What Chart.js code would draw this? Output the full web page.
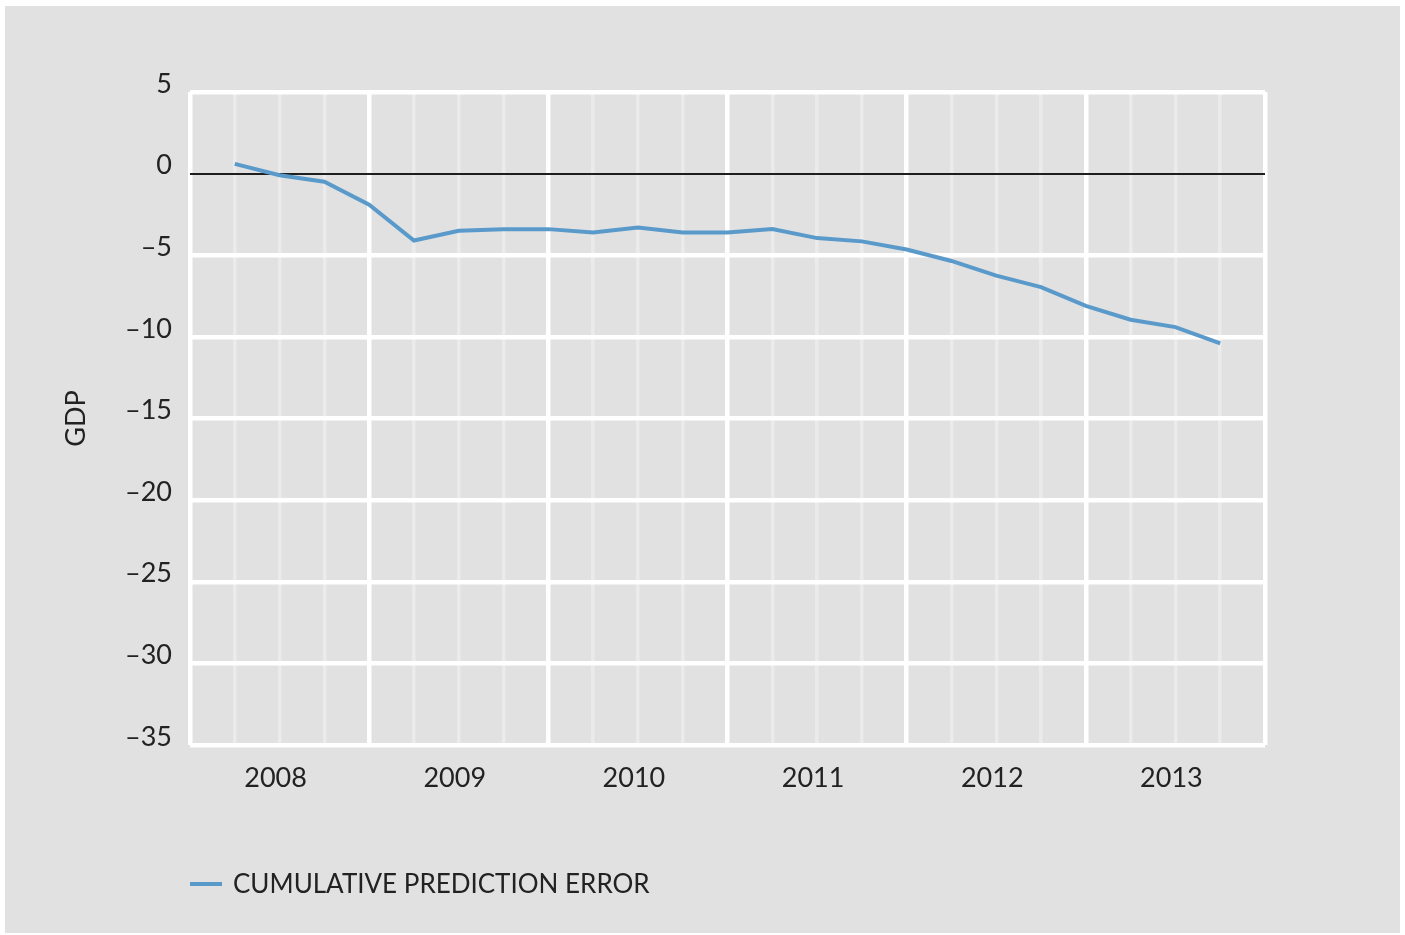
<!DOCTYPE html>
<html>
<head>
<meta charset="utf-8">
<script src="https://cdn.jsdelivr.net/npm/chart.js@4/dist/chart.umd.min.js"></script>
<style>
  html, body { margin: 0; padding: 0; background: #fff; }
  #box {
    position: absolute; left: 5px; top: 6px;
    width: 1395px; height: 927px;
    background: #e1e1e1;
  }
</style>
</head>
<body>
<div id="box"><canvas id="chart"></canvas></div>
<script>
// quarter ends, the grid has one line per quarter
const quarters = [
  "2007Q4",
  "2008Q1", "2008Q2", "2008Q3", "2008Q4",
  "2009Q1", "2009Q2", "2009Q3", "2009Q4",
  "2010Q1", "2010Q2", "2010Q3", "2010Q4",
  "2011Q1", "2011Q2", "2011Q3", "2011Q4",
  "2012Q1", "2012Q2", "2012Q3", "2012Q4",
  "2013Q1", "2013Q2", "2013Q3", "2013Q4"
];
const predictionError = [
  null,
  0.6, -0.1, -0.5, -1.9,
  -4.1, -3.5, -3.4, -3.4,
  -3.6, -3.3, -3.6, -3.6,
  -3.4, -3.95, -4.15, -4.65,
  -5.35, -6.25, -6.95, -8.1,
  -8.95, -9.4, -10.4,
  null
];
const yTicks = [5, 0, -5, -10, -15, -20, -25, -30, -35];
const seriesName = "CUMULATIVE PREDICTION ERROR";
const yTitle = "GDP";

const lineColor = "#5a9acb";
const textColor = "#222";
const fontFamily = "Lato, 'Noto Sans', sans-serif";

// legend drawn under the plot, lined up with the left edge of the chart area
const legendPlugin = {
  id: "bottomLegend",
  afterDraw(chart) {
    const ctx = chart.ctx;
    const x = chart.chartArea.left;
    const y = chart.chartArea.bottom + 139;
    ctx.save();
    ctx.strokeStyle = lineColor;
    ctx.lineWidth = 4;
    ctx.beginPath();
    ctx.moveTo(x, y);
    ctx.lineTo(x + 32, y);
    ctx.stroke();
    ctx.fillStyle = textColor;
    ctx.font = "26px " + fontFamily;
    ctx.textBaseline = "middle";
    ctx.fillText(seriesName, x + 43, y + 1);
    ctx.restore();
  }
};

new Chart(document.getElementById("chart"), {
  type: "line",
  data: {
    labels: quarters,
    datasets: [{
      label: seriesName,
      data: predictionError,
      borderColor: lineColor,
      borderWidth: 4,
      pointRadius: 0,
      tension: 0,
      spanGaps: false
    }]
  },
  options: {
    responsive: true,
    maintainAspectRatio: false,
    animation: false,
    devicePixelRatio: 1,
    layout: { padding: { top: 86, right: 135, bottom: 130, left: 0 } },
    plugins: {
      legend: { display: false },
      tooltip: { enabled: false }
    },
    scales: {
      x: {
        type: "category",
        offset: false,
        border: { display: false },
        grid: {
          drawTicks: false,
          color: c => c.index % 4 === 0 ? "#ffffff" : "#ebebeb",
          lineWidth: c => c.index % 4 === 0 ? 4.5 : 3.5
        },
        ticks: {
          autoSkip: false,
          maxRotation: 0,
          padding: 17,
          color: textColor,
          font: { family: fontFamily, size: 27 },
          labelOffset: -4,
          callback: (v, i) => i % 4 === 2 ? quarters[i].slice(0, 4) : ""
        },
        afterFit: s => { s.height = 58; }
      },
      y: {
        min: -35,
        max: 5,
        border: { display: false },
        afterBuildTicks: s => { s.ticks = yTicks.map(v => ({ value: v })); },
        grid: {
          drawTicks: false,
          color: c => c.tick.value === 0 ? "#1e1e1e" : "#ffffff",
          lineWidth: c => c.tick.value === 0 ? 2 : 4.5
        },
        ticks: {
          padding: 18,
          labelOffset: -8,
          color: textColor,
          font: { family: fontFamily, size: 27 },
          callback: v => String(v).replace("-", "\u2013")
        },
        title: {
          display: true,
          text: yTitle,
          color: textColor,
          font: { family: fontFamily, size: 27 },
          padding: { top: 55, bottom: 0 }
        },
        afterFit: s => { s.width = 185; }
      }
    }
  },
  plugins: [legendPlugin]
});
</script>
</body>
</html>
